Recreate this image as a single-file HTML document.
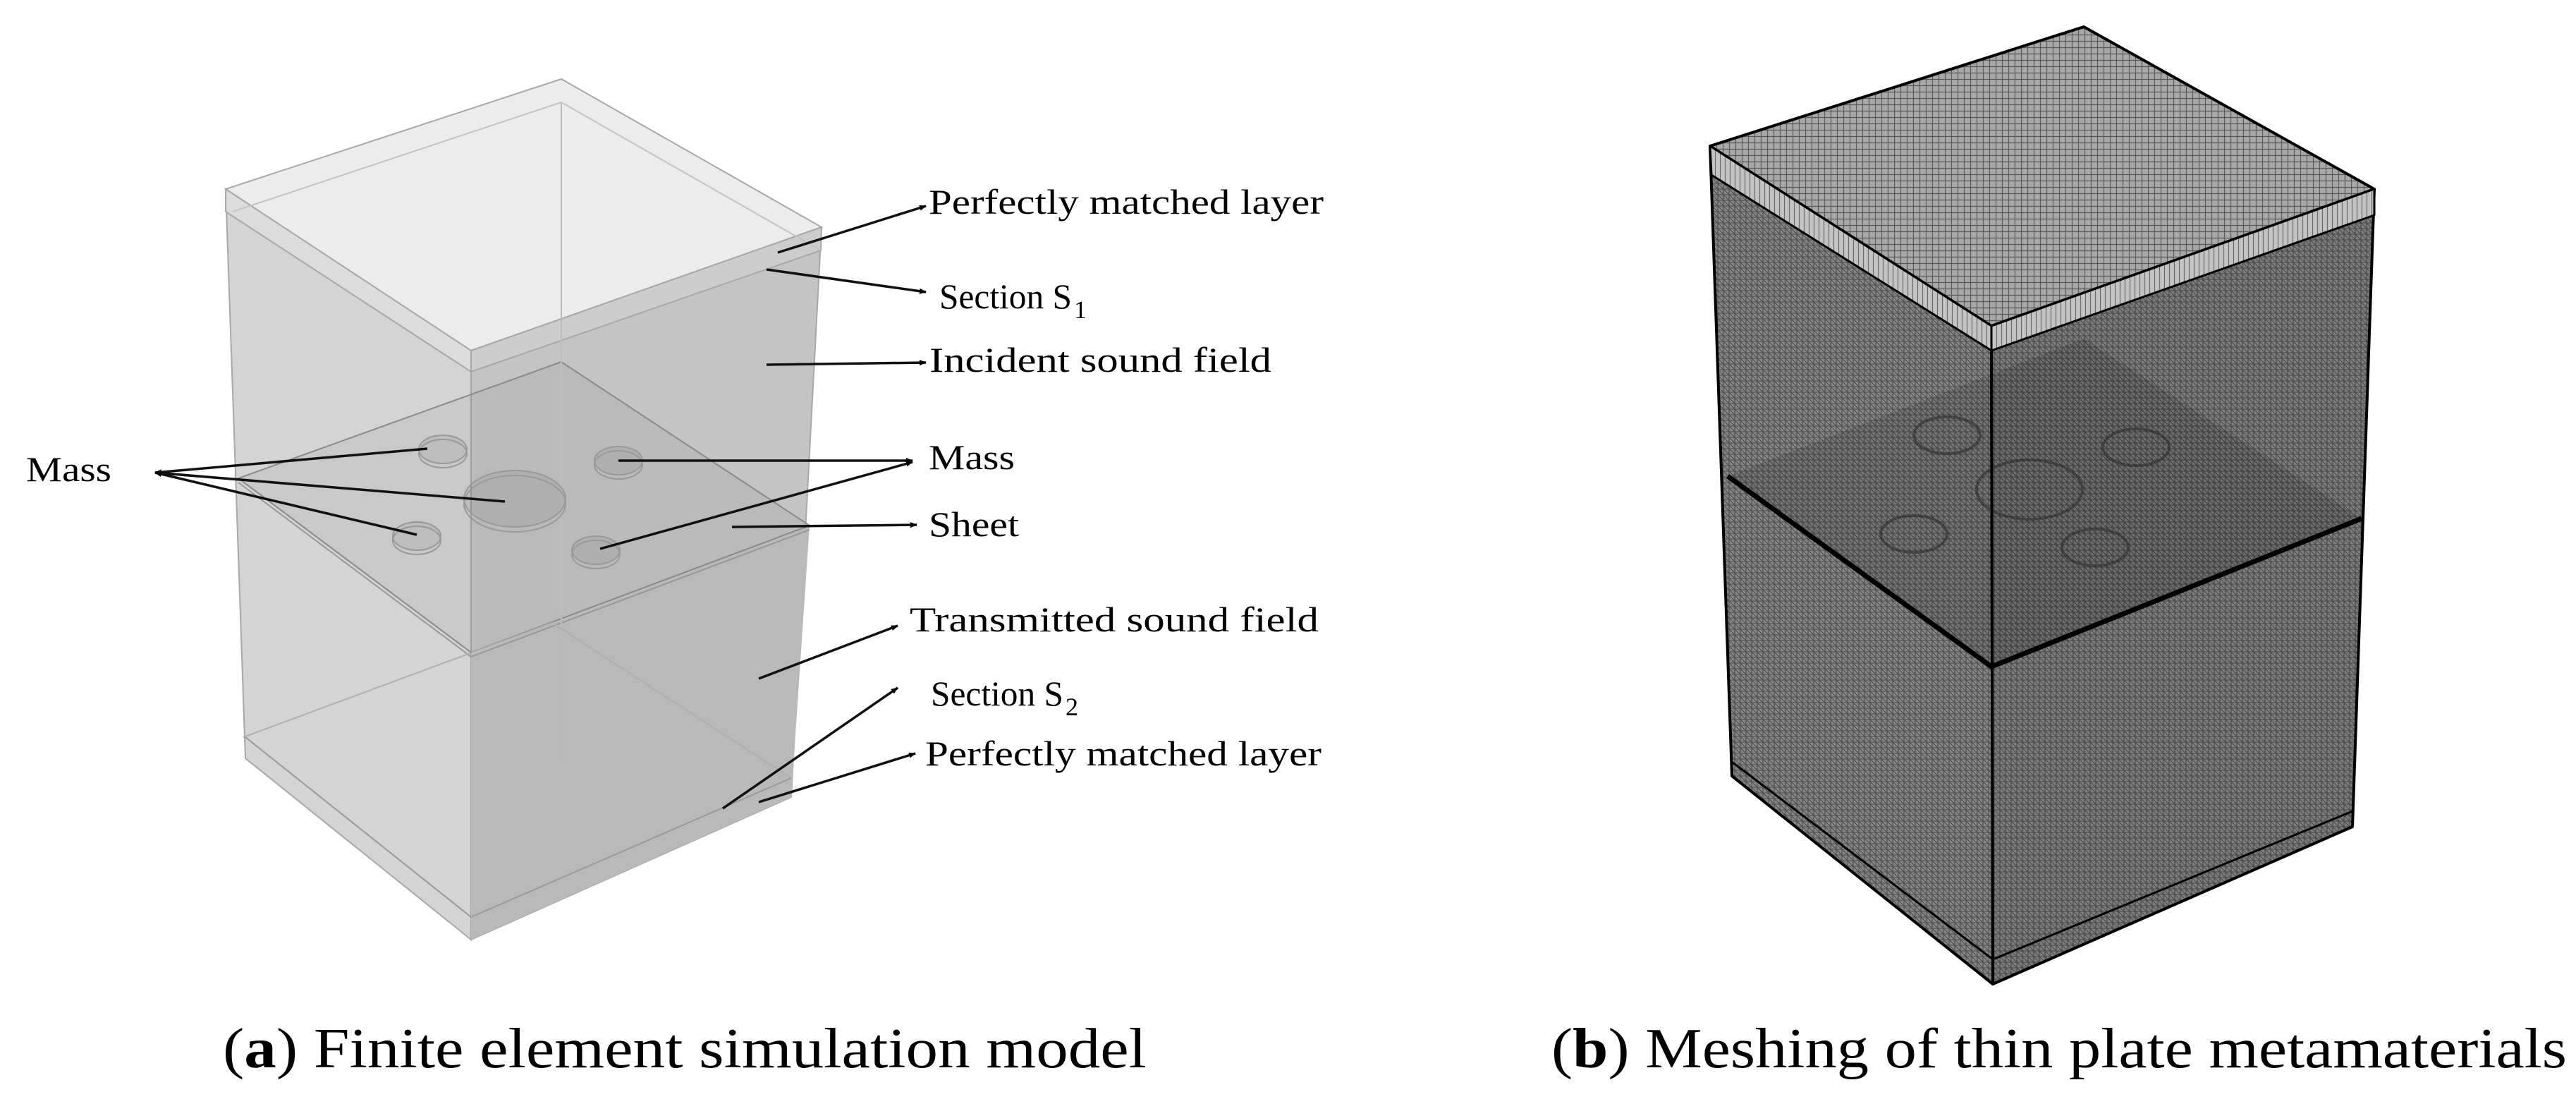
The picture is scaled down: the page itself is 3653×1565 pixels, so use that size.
<!DOCTYPE html>
<html><head><meta charset="utf-8"><style>
html,body{margin:0;padding:0;background:#fff;}
svg{display:block;}
text{font-family:"Liberation Serif",serif;fill:#000;}
</style></head><body>
<svg width="3653" height="1565" viewBox="0 0 3653 1565" xmlns="http://www.w3.org/2000/svg">
<defs>
<marker id="ah" markerWidth="10" markerHeight="10" refX="9" refY="5" orient="auto" markerUnits="userSpaceOnUse" viewBox="0 0 10 10">
<path d="M0,1 L10,5 L0,9 z" fill="#000"/></marker>
<pattern id="mesh" width="8" height="8" patternUnits="userSpaceOnUse">
<rect width="8" height="8" fill="#858585"/><path d="M0,0 L8,8 M0,4 L8,4 M4,0 L4,8" stroke="#4a4a4a" stroke-width="1"/></pattern>
<pattern id="meshD" width="8" height="8" patternUnits="userSpaceOnUse">
<rect width="8" height="8" fill="#7c7c7c"/><path d="M0,0 L8,8 M0,4 L8,4 M4,0 L4,8" stroke="#444" stroke-width="1"/></pattern>
<pattern id="meshT" width="9" height="9" patternUnits="userSpaceOnUse">
<rect width="9" height="9" fill="#a8a8a8"/><path d="M0,4.5 L9,4.5 M4.5,0 L4.5,9" stroke="#5a5a5a" stroke-width="1.2"/></pattern>
<pattern id="meshP" width="7" height="7" patternUnits="userSpaceOnUse">
<rect width="7" height="7" fill="#c4c4c4"/><path d="M3.5,0 L3.5,7" stroke="#6a6a6a" stroke-width="1.2"/></pattern>
</defs>

<!-- LEFT BOX -->
<g stroke="#a8a8a8" stroke-width="2">
<polygon points="320,268 668,497 668,1332 348,1075" fill="#d4d4d4"/>
<polygon points="668,497 1165,322 1122,1130 668,1332" fill="#c4c4c4"/>
<polygon points="668,928 1148,745 1122,1130 668,1332" fill="#b9b9b9" stroke="none"/>
<polygon points="796,112 320,268 668,497 1165,322" fill="#ececec"/>
<polygon points="320,268 668,497 668,527 320,300" fill="#dcdcdc"/>
<polygon points="668,497 1165,322 1164,355 668,527" fill="#cdcdcd"/>
<polygon points="796,513 338,678 668,925 1148,745" fill="rgba(0,0,0,0.05)" stroke="#8a8a8a"/>
<polyline points="338,684 668,931 1148,751" fill="none" stroke="#999"/>
<polyline points="796,145 796,1080" fill="none" stroke="#bdbdbd"/>
<polyline points="345,1045 783,883 1122,1103" fill="none" stroke="#b0b0b0"/>
<polyline points="348,1045 668,1300 1122,1103" fill="none" stroke="#999"/>
<polyline points="330,300 796,145 1164,355" fill="none" stroke="#c4c4c4"/>
</g>
<g fill="rgba(0,0,0,0.06)" stroke="#999" stroke-width="2">
<ellipse cx="628" cy="637" rx="34" ry="20"/><ellipse cx="628" cy="643" rx="34" ry="20" fill="none"/>
<ellipse cx="877" cy="653" rx="34" ry="20"/><ellipse cx="877" cy="659" rx="34" ry="20" fill="none"/>
<ellipse cx="730" cy="707" rx="72" ry="40"/><ellipse cx="730" cy="714" rx="72" ry="40" fill="none"/>
<ellipse cx="591" cy="760" rx="34" ry="20"/><ellipse cx="591" cy="766" rx="34" ry="20" fill="none"/>
<ellipse cx="845" cy="780" rx="34" ry="20"/><ellipse cx="845" cy="786" rx="34" ry="20" fill="none"/>
</g>

<g stroke="#111" stroke-width="3.5" fill="none" marker-end="url(#ah)">
<line x1="1103" y1="358" x2="1313" y2="292"/>
<line x1="1087" y1="382" x2="1313" y2="414"/>
<line x1="1087" y1="517" x2="1313" y2="514"/>
<line x1="877" y1="653" x2="1294" y2="653"/>
<line x1="851" y1="778" x2="1294" y2="655"/>
<line x1="1038" y1="747" x2="1300" y2="744"/>
<line x1="1076" y1="962" x2="1273" y2="887"/>
<line x1="1025" y1="1146" x2="1273" y2="975"/>
<line x1="1076" y1="1137" x2="1298" y2="1068"/>
<line x1="606" y1="636" x2="220" y2="670"/>
<line x1="716" y1="711" x2="220" y2="670"/>
<line x1="591" y1="758" x2="220" y2="670"/>
</g>

<g font-size="50">
<text x="1317" y="303" textLength="560" lengthAdjust="spacingAndGlyphs">Perfectly matched layer</text>
<text x="1332" y="437" textLength="188" lengthAdjust="spacingAndGlyphs">Section S</text>
<text x="1523" y="451" font-size="36">1</text>
<text x="1318" y="527" textLength="485" lengthAdjust="spacingAndGlyphs">Incident sound field</text>
<text x="1317" y="665" textLength="122" lengthAdjust="spacingAndGlyphs">Mass</text>
<text x="1317" y="760" textLength="128" lengthAdjust="spacingAndGlyphs">Sheet</text>
<text x="1290" y="895" textLength="580" lengthAdjust="spacingAndGlyphs">Transmitted sound field</text>
<text x="1320" y="1000" textLength="188" lengthAdjust="spacingAndGlyphs">Section S</text>
<text x="1511" y="1014" font-size="36">2</text>
<text x="1312" y="1085" textLength="562" lengthAdjust="spacingAndGlyphs">Perfectly matched layer</text>
<text x="37" y="682" textLength="121" lengthAdjust="spacingAndGlyphs">Mass</text>
</g>

<!-- RIGHT BOX -->
<g stroke="#000" stroke-width="4" stroke-linejoin="round">
<polygon points="2425,207 2824,462 2826,1395 2456,1100" fill="url(#mesh)"/>
<polygon points="2824,462 3367,268 3336,1172 2826,1395" fill="url(#meshD)"/>
<polygon points="2955,38 2425,207 2824,462 3367,268" fill="url(#meshT)"/>
<polygon points="2425,207 2824,462 2824,497 2427,248" fill="url(#meshP)" stroke-width="3"/>
<polygon points="2824,462 3367,268 3367,305 2824,497" fill="url(#meshP)" stroke-width="3"/>
</g>
<polygon points="2450,675 2955,480 3349,735 2824,945" fill="rgba(0,0,0,0.13)"/>
<g fill="none" stroke="#2a2a2a" stroke-width="4" opacity="0.55">
<ellipse cx="2761" cy="617" rx="47" ry="26"/>
<ellipse cx="3029" cy="634" rx="47" ry="26"/>
<ellipse cx="2878" cy="694" rx="75" ry="42"/>
<ellipse cx="2714" cy="757" rx="47" ry="26"/>
<ellipse cx="2971" cy="776" rx="47" ry="26"/>
</g>
<g stroke="#000" fill="none">
<polyline points="2450,675 2824,945 3349,735" stroke-width="7"/>
<polyline points="2456,1080 2826,1360 3336,1150" stroke-width="3"/>
<line x1="2824" y1="497" x2="2826" y2="1395" stroke-width="3"/>
</g>

<text x="316" y="1513" font-size="80" textLength="1310" lengthAdjust="spacingAndGlyphs">(<tspan font-weight="bold">a</tspan>) Finite element simulation model</text>
<text x="2200" y="1513" font-size="80" textLength="1440" lengthAdjust="spacingAndGlyphs">(<tspan font-weight="bold">b</tspan>) Meshing of thin plate metamaterials</text>
</svg>
</body></html>
